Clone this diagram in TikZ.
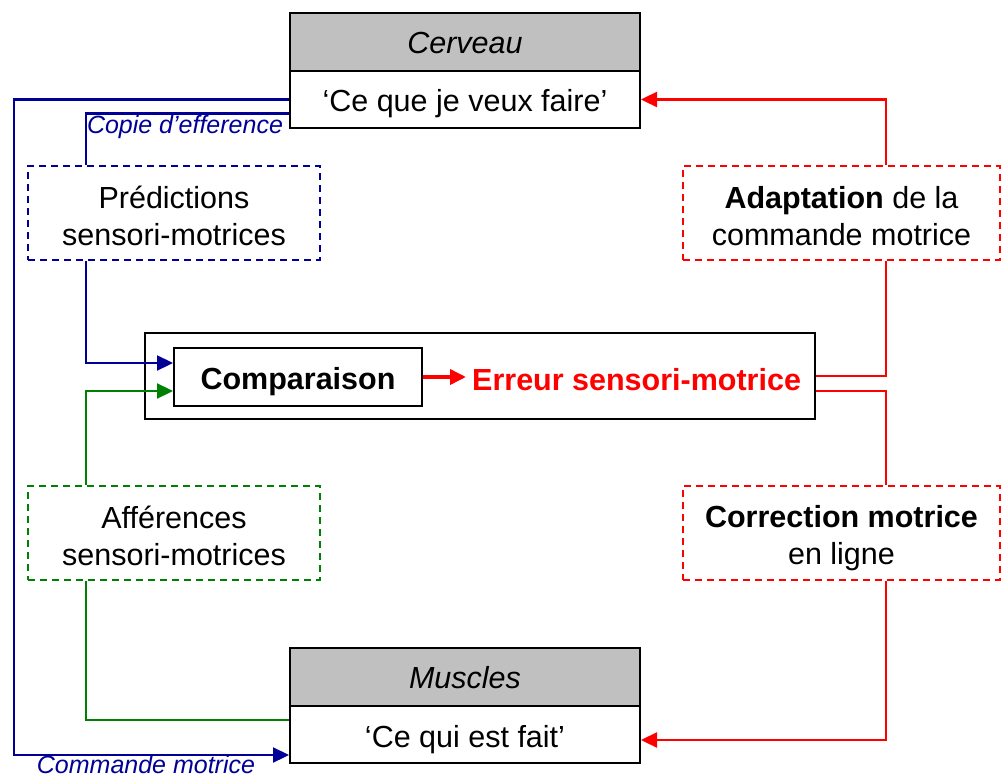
\documentclass[tikz,border=0pt]{standalone}
\usepackage{fontspec}
\setmainfont{Liberation Sans}
\usetikzlibrary{arrows.meta,calc}
\definecolor{navy}{RGB}{0,0,150}
\definecolor{dgreen}{RGB}{0,128,0}
\definecolor{hdgray}{RGB}{192,192,192}
\begin{document}
\begin{tikzpicture}[x=1pt,y=-1pt,
  main/.style={font=\fontsize{30.5}{37}\selectfont, align=center},
  small/.style={font=\fontsize{25}{30}\selectfont\itshape, text=navy, inner sep=0pt},
  solidbox/.style={draw=black, line width=2pt, inner sep=0pt},
  dbox/.style={draw=#1, line width=2pt, dash pattern=on 7pt off 5pt, inner sep=0pt, minimum width=292pt, minimum height=94pt},
  bline/.style={draw=navy, line width=2.3pt},
  gline/.style={draw=dgreen, line width=2.3pt},
  rline/.style={draw=red, line width=2.3pt},
  arr/.style={-{Triangle[length=16pt,width=15pt]}},
]
\useasboundingbox (0,0) rectangle (1002,776);
\fill[white] (0,0) rectangle (1002,776);

% Cerveau
\node[solidbox, fill=hdgray, minimum width=350pt, minimum height=58pt,
  label={[main,yshift=-1pt]center:\itshape Cerveau}] (cerh) at (465,42) {};
\node[solidbox, fill=white, minimum width=350pt, minimum height=57pt,
  label={[main,yshift=-4pt]center:‘Ce que je veux faire’}] (cerb) at (465,99.5) {};

% Muscles
\node[solidbox, fill=hdgray, minimum width=350pt, minimum height=58pt,
  label={[main,yshift=-1pt]center:\itshape Muscles}] (mush) at (465,677) {};
\node[solidbox, fill=white, minimum width=350pt, minimum height=57pt,
  label={[main,yshift=-5pt]center:‘Ce qui est fait’}] (musb) at (465,734.5) {};

% dashed boxes
\node[dbox=navy, label={[main,yshift=-3pt]center:Prédictions\\sensori-motrices}] (pred) at (174,213) {};
\node[dbox=red, minimum width=317pt, label={[main,yshift=-3pt]center:\textbf{Adaptation} de la\\commande motrice}] (adapt) at (841.5,213) {};
\node[dbox=dgreen, label={[main,yshift=-3pt]center:Afférences\\sensori-motrices}] (aff) at (174,533) {};
\node[dbox=red, minimum width=317pt, label={[main,yshift=-5pt]center:\textbf{Correction motrice}\\en ligne}] (corr) at (841.5,533) {};

% comparison
\node[solidbox, minimum width=670pt, minimum height=86pt] (outer) at (479.5,376) {};
\node[solidbox, minimum width=248pt, minimum height=58pt,
  label={[main,yshift=-5pt]center:\textbf{Comparaison}}] (comp) at (298,377) {};
\node[main, anchor=west, inner sep=0pt, text=red] (err) at (472,380) {\textbf{Erreur sensori-motrice}};
\coordinate (errtip) at (466,377);

% labels
\node[small] (copie) at (185,127) {Copie d’efference};
\node[small] (cmd) at (146,765) {Commande motrice};

% blue connectors
\draw[bline, arr] (cerb.west) -| (14,400) |- ($(musb.south west)+(0,-9)$);
\draw[bline] ($(cerb.west)+(0,14)$) -| ($(pred.north west)+(59,0)$);
\draw[bline, arr] ($(pred.south west)+(59,0)$) |- ($(comp.west)+(0,-14)$);

% green connectors
\draw[gline, arr] ($(aff.north west)+(59,0)$) |- ($(comp.west)+(0,14)$);
\draw[gline] ($(aff.south west)+(59,0)$) |- ($(musb.west)+(0,-14.5)$);

% red connectors
\draw[draw=red, line width=3.6pt, -{Triangle[length=16pt,width=15pt]}] (comp.east) -- (errtip);
\draw[rline] (outer.east) -| ($(adapt.south west)+(204,0)$);
\draw[rline, arr] ($(adapt.north west)+(204,0)$) |- (cerb.east);
\draw[rline] ($(outer.east)+(0,15)$) -| ($(corr.north west)+(204,0)$);
\draw[rline, arr] ($(corr.south west)+(204,0)$) |- ($(musb.east)+(0,5.5)$);
\end{tikzpicture}
\end{document}
